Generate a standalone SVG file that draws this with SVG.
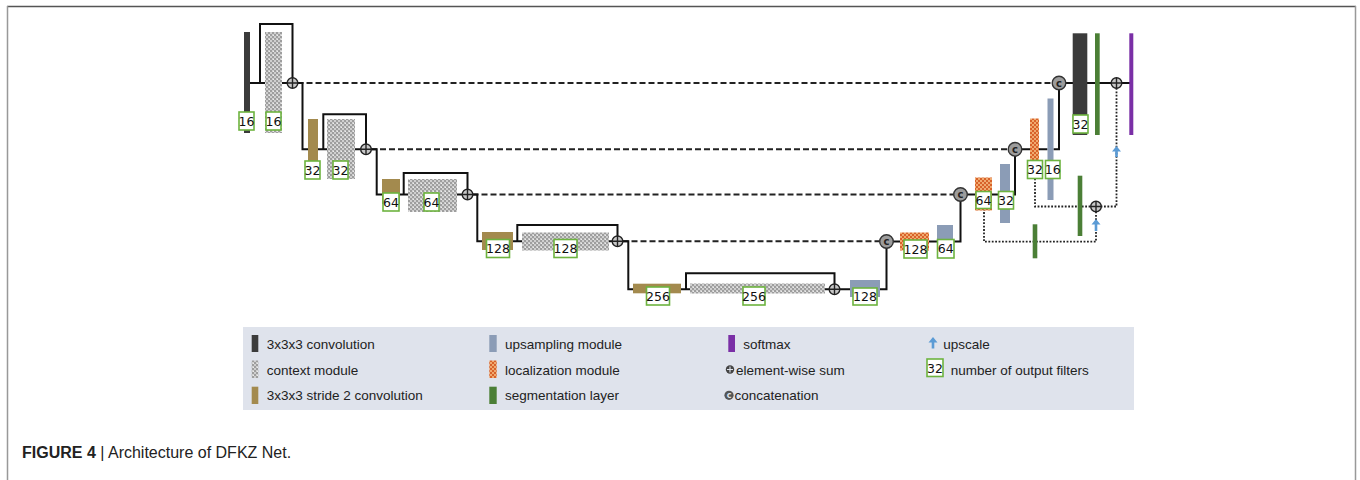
<svg xmlns="http://www.w3.org/2000/svg" width="1360" height="480" viewBox="0 0 1360 480">
<style>
.s{fill:none;stroke:#111;stroke-width:2}
.d{fill:none;stroke:#222;stroke-width:2;stroke-dasharray:6 3}
.o{fill:none;stroke:#222;stroke-width:1.8;stroke-dasharray:1.8 1.6}
.lb{fill:#fff;stroke:#6db33f;stroke-width:1.6}
.lt{font-family:"DejaVu Sans",Verdana,sans-serif;font-size:12.5px;fill:#111;text-anchor:middle}
.cv{fill:#3b3b3b}
.st{fill:#a38a4e}
.cx{fill:url(#ctx)}
.up{fill:#8b9cb6}
.lc{fill:url(#loc)}
.sg{fill:#4b7f36}
.sm{fill:#7a2fa6}
.sum{fill:#c8c8c8;stroke:#222;stroke-width:1.4}
.pl{stroke:#222;stroke-width:1.4}
.cc{fill:#9c9c9c;stroke:#333;stroke-width:1.4}
.ct{font-family:"DejaVu Sans",sans-serif;font-size:10px;font-weight:bold;fill:#222;text-anchor:middle}
.ar{fill:#5b9bd5}
.lg{font-family:"Liberation Sans",Arial,sans-serif;font-size:13.5px;fill:#222}
</style>
<defs>
<pattern id="ctx" width="4" height="4" patternUnits="userSpaceOnUse">
<rect width="4" height="4" fill="#cfcfcf"/>
<rect width="2" height="2" fill="#9e9e9e"/>
<rect x="2" y="2" width="2" height="2" fill="#9e9e9e"/>
<rect x="1" y="3" width="1" height="1" fill="#ececec"/>
</pattern>
<pattern id="loc" width="4" height="4" patternUnits="userSpaceOnUse">
<rect width="4" height="4" fill="#d8622a"/>
<rect width="2" height="2" fill="#f0aa70"/>
<rect x="2" y="2" width="2" height="2" fill="#f0aa70"/>
</pattern>
</defs>
<rect width="1360" height="480" fill="#fff"/>
<g id="frame">
<line x1="7" y1="6.5" x2="1356" y2="6.5" stroke="#555" stroke-width="1.5"/>
<line x1="7.5" y1="6" x2="7.5" y2="480" stroke="#999" stroke-width="1.5"/>
<line x1="1355.5" y1="6" x2="1355.5" y2="480" stroke="#999" stroke-width="1.5"/>
</g>
<g id="connectors">
<path class="d" d="M297.5,83 H1052.5"/>
<path class="d" d="M371,149.3 H1008.5"/>
<path class="d" d="M472.5,194.5 H954"/>
<path class="d" d="M622.5,241.3 H880"/>
<path class="s" d="M250,83 H265 M282,83 H287.5 M260,83 V24 H292.5 V78"/>
<path class="s" d="M297.5,83 H302.5 V149.3 H308 M318,149.3 H327 M355,149.3 H361 M323.3,149.3 V114.3 H366 V144.3"/>
<path class="s" d="M371,149.3 H376.7 V194.5 H382 M400,194.5 H408 M457,194.5 H462.5 M403.7,194.5 V173 H467.5 V189.5"/>
<path class="s" d="M472.5,194.5 H477.3 V241.3 H482 M513,241.3 H522 M609,241.3 H612.5 M517.3,241.3 V225 H617.5 V236.3"/>
<path class="s" d="M622.5,241.3 H628.3 V289.3 H633.3 M681,289.3 H690 M825,289.3 H829.5 M686,289.3 V273.3 H834.5 V284.3"/>
<path class="s" d="M839.5,289.3 H850 M880,289.3 H886.5 V248"/>
<path class="s" d="M893,241.5 H900 M929,241.5 H937 M953,241.5 H960.5 V201"/>
<path class="s" d="M967,194.5 H975 M992,194.5 H1000 M1010,194.5 H1015 V155.8"/>
<path class="s" d="M1021.5,149.3 H1030 M1039,149.3 H1047.5 M1053.5,149.3 H1059 V89.5"/>
<path class="s" d="M1065.5,83 H1111.5 M1121.5,83 H1131"/>
<path class="o" d="M1116.5,88 V206.5 H1101"/>
<path class="o" d="M1035,178.5 V206.5 H1091"/>
<path class="o" d="M1096,211.5 V241.7 H984 V208.5"/>
</g>
<g id="conv16"><rect class="cv" x="244" y="32" width="6" height="101"/><rect class="lb" x="239" y="112" width="15" height="18"/><text class="lt" x="246.5" y="125.5">16</text></g>
<g id="ctx16"><rect class="cx" x="265" y="32" width="17" height="101"/><rect class="lb" x="266" y="112" width="15" height="18"/><text class="lt" x="273.5" y="125.5">16</text></g>
<g id="sum1"><circle class="sum" cx="292.5" cy="83" r="5.3"/><path class="pl" d="M287.2,83 H297.8 M292.5,77.7 V88.3"/></g>
<g id="stride32"><rect class="st" x="308" y="119" width="10" height="45"/><rect class="lb" x="305" y="161" width="15" height="18"/><text class="lt" x="312.5" y="174.5">32</text></g>
<g id="ctx32"><rect class="cx" x="327" y="119" width="28" height="60"/><rect class="lb" x="333" y="161" width="15" height="18"/><text class="lt" x="340.5" y="174.5">32</text></g>
<g id="sum2"><circle class="sum" cx="366" cy="149.3" r="5.3"/><path class="pl" d="M360.7,149.3 H371.3 M366,144 V154.6"/></g>
<g id="stride64"><rect class="st" x="382" y="179" width="18" height="25"/><rect class="lb" x="383" y="193" width="16" height="18"/><text class="lt" x="391" y="206.5">64</text></g>
<g id="ctx64"><rect class="cx" x="408" y="179" width="49" height="33"/><rect class="lb" x="424" y="193" width="15" height="18"/><text class="lt" x="431.5" y="206.5">64</text></g>
<g id="sum3"><circle class="sum" cx="467.5" cy="194.5" r="5.3"/><path class="pl" d="M462.2,194.5 H472.8 M467.5,189.2 V199.8"/></g>
<g id="stride128"><rect class="st" x="482" y="232" width="31" height="18"/><rect class="lb" x="486.5" y="239.5" width="23" height="18"/><text class="lt" x="498" y="253">128</text></g>
<g id="ctx128"><rect class="cx" x="522" y="232.5" width="87" height="18"/><rect class="lb" x="554" y="239.5" width="23" height="18"/><text class="lt" x="565.5" y="253">128</text></g>
<g id="sum4"><circle class="sum" cx="617.5" cy="241.3" r="5.3"/><path class="pl" d="M612.2,241.3 H622.8 M617.5,236 V246.6"/></g>
<g id="stride256"><rect class="st" x="633" y="283.7" width="48" height="9.6"/><rect class="lb" x="646.5" y="287" width="23" height="18"/><text class="lt" x="658" y="300.5">256</text></g>
<g id="ctx256"><rect class="cx" x="690" y="283.5" width="135" height="10"/><rect class="lb" x="743" y="287" width="22" height="18"/><text class="lt" x="754" y="300.5">256</text></g>
<g id="sum5"><circle class="sum" cx="834.5" cy="289.3" r="5.3"/><path class="pl" d="M829.2,289.3 H839.8 M834.5,284 V294.6"/></g>
<g id="up128"><rect class="up" x="850" y="280" width="30" height="17"/><rect class="lb" x="853" y="288" width="24" height="17"/><text class="lt" x="865" y="301">128</text></g>
<g id="concat4"><circle class="cc" cx="886.5" cy="241.5" r="6.8"/><text class="ct" x="886.5" y="245">c</text></g>
<g id="loc128"><rect class="lc" x="900" y="232.5" width="29" height="18"/><rect class="lb" x="904" y="240" width="23" height="18"/><text class="lt" x="915.5" y="253.5">128</text></g>
<g id="up64"><rect class="up" x="937" y="225" width="16" height="15"/><rect class="lb" x="937.5" y="239.5" width="16.5" height="18.5"/><text class="lt" x="945.7" y="253.3">64</text></g>
<g id="concat3"><circle class="cc" cx="960.5" cy="194.5" r="6.8"/><text class="ct" x="960.5" y="198">c</text></g>
<g id="loc64"><rect class="lc" x="975" y="177.5" width="17" height="33"/><rect class="lb" x="976" y="191.5" width="15" height="17"/><text class="lt" x="983.5" y="204.5">64</text></g>
<g id="up32"><rect class="up" x="1000" y="164" width="10" height="59"/><rect class="lb" x="998.5" y="191.5" width="15" height="17.5"/><text class="lt" x="1006" y="204.7">32</text></g>
<g id="concat2"><circle class="cc" cx="1015" cy="149.3" r="6.8"/><text class="ct" x="1015" y="152.8">c</text></g>
<g id="loc32"><rect class="lc" x="1030" y="118.5" width="9" height="42"/><rect class="lb" x="1027.5" y="160.5" width="15" height="18"/><text class="lt" x="1035" y="174">32</text></g>
<g id="up16"><rect class="up" x="1047.5" y="98.5" width="6" height="101.5"/><rect class="lb" x="1045.5" y="160.5" width="14.5" height="18"/><text class="lt" x="1052.75" y="174">16</text></g>
<g id="concat1"><circle class="cc" cx="1059" cy="83" r="6.8"/><text class="ct" x="1059" y="86.5">c</text></g>
<g id="conv32"><rect class="cv" x="1072.7" y="33.3" width="14.6" height="101.7"/><rect class="lb" x="1073" y="115" width="15" height="18"/><text class="lt" x="1080.5" y="128.5">32</text></g>
<g id="seg1"><rect class="sg" x="1095" y="33.3" width="4.7" height="101.7"/></g>
<g id="sumA"><circle class="sum" cx="1116.5" cy="83" r="5.3"/><path class="pl" d="M1111.2,83 H1121.8 M1116.5,77.7 V88.3"/></g>
<g id="softmax"><rect class="sm" x="1129.3" y="33.3" width="4" height="101.7"/></g>
<g id="seg2"><rect class="sg" x="1077.7" y="175.7" width="4.6" height="60.3"/></g>
<g id="sumB"><circle class="sum" cx="1096" cy="206.5" r="5.3"/><path class="pl" d="M1090.7,206.5 H1101.3 M1096,201.2 V211.8"/></g>
<g id="seg3"><rect class="sg" x="1032.7" y="224.3" width="4.6" height="34"/></g>
<g id="upscaleA"><path class="ar" d="M1116.5,146 L1121,151.5 H1117.8 V157 H1115.2 V151.5 H1112 Z"/></g>
<g id="upscaleB"><path class="ar" d="M1096,219 L1100.5,224.5 H1097.3 V231 H1094.7 V224.5 H1091.5 Z"/></g>
<g id="legend">
<rect x="243" y="327" width="891" height="83" fill="#dfe3ec"/>
<rect class="cv" x="251.7" y="335" width="6.6" height="17"/>
<text class="lg" x="266.7" y="349">3x3x3 convolution</text>
<rect class="cx" x="251.7" y="360.5" width="6.6" height="17.5"/>
<text class="lg" x="266.7" y="374.5">context module</text>
<rect class="st" x="251.7" y="386.7" width="6.6" height="17.3"/>
<text class="lg" x="266.7" y="400">3x3x3 stride 2 convolution</text>
<rect class="up" x="489.3" y="335" width="7.4" height="17"/>
<text class="lg" x="505" y="349">upsampling  module</text>
<rect class="lc" x="489.3" y="360.5" width="7.4" height="17.5"/>
<text class="lg" x="505" y="374.5">localization module</text>
<rect class="sg" x="489.3" y="386.7" width="7.4" height="17.3"/>
<text class="lg" x="505" y="400">segmentation layer</text>
<rect class="sm" x="728.3" y="335" width="6.7" height="17"/>
<text class="lg" x="743.3" y="349">softmax</text>
<circle cx="730" cy="369.5" r="4.2" fill="#444"/>
<path d="M727,369.5 H733 M730,366.5 V372.5" stroke="#dfe3ec" stroke-width="1.1"/>
<text class="lg" x="736" y="374.5">element-wise sum</text>
<circle cx="729" cy="395.3" r="4.6" fill="#555"/>
<text x="729" y="398" font-family="DejaVu Sans,sans-serif" font-size="8" font-weight="bold" fill="#dfe3ec" text-anchor="middle">c</text>
<text class="lg" x="734.5" y="400">concatenation</text>
<path class="ar" d="M933,337 L937.5,342.5 H934.3 V348.5 H931.7 V342.5 H928.5 Z"/>
<text class="lg" x="943.3" y="349">upscale</text>
<rect class="lb" x="927" y="359" width="16" height="17.5"/>
<text class="lt" x="935" y="372.5">32</text>
<text class="lg" x="950.7" y="374.5">number  of  output  filters</text>
</g>
<g id="caption">
<text x="22" y="458" font-family="Liberation Sans,Arial,sans-serif" font-size="16" fill="#222"><tspan font-weight="bold">FIGURE 4</tspan> | Architecture of DFKZ Net.</text>
</g>
</svg>
